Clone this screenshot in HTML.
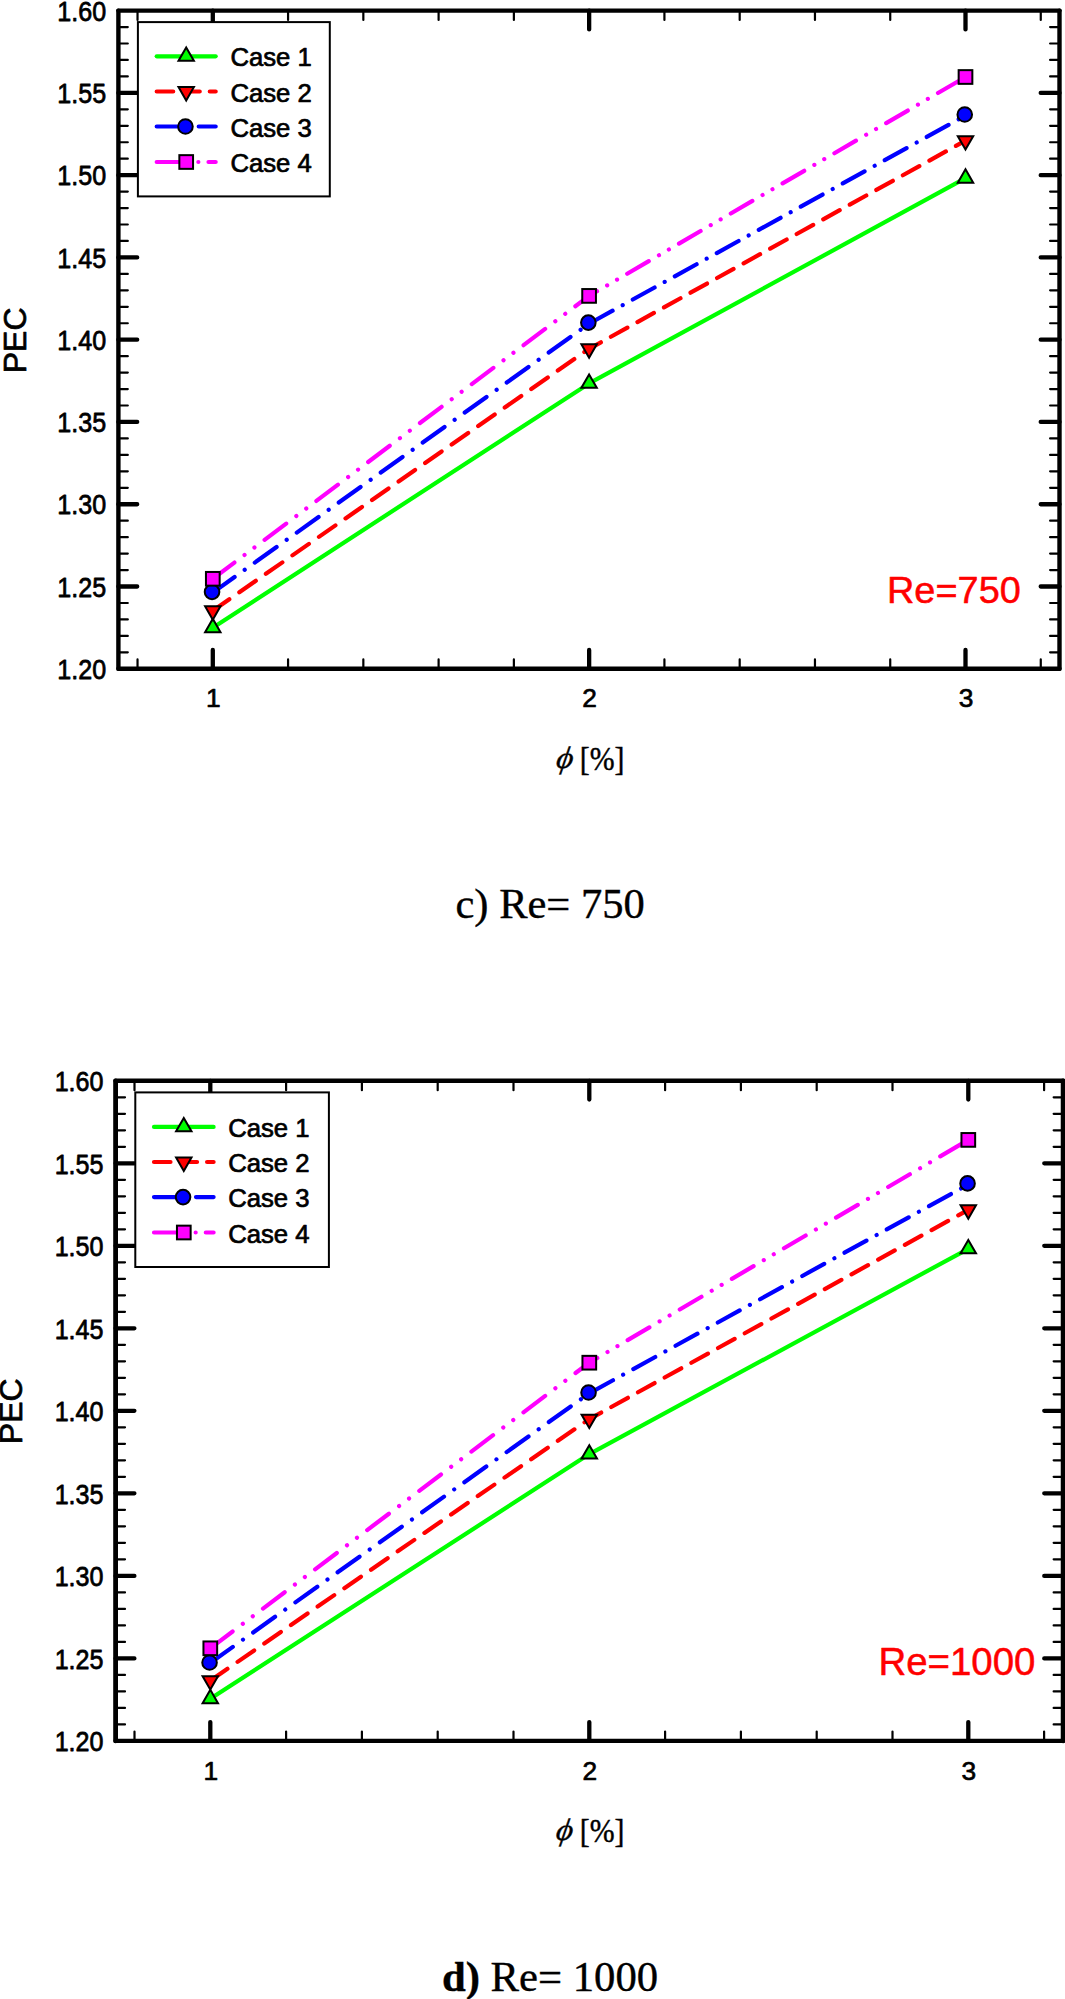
<!DOCTYPE html>
<html lang="en"><head><meta charset="utf-8"><title>PEC vs phi</title>
<style>
html,body{margin:0;padding:0;background:#fff}svg{display:block}
text{font-family:"Liberation Sans",Arial,Helvetica,sans-serif;fill:#000}
.s{stroke:#000;stroke-width:.7px;stroke-linejoin:round}
.sr{fill:#f00;stroke:#f00;stroke-width:.5px;stroke-linejoin:round}
.t{font-family:"Liberation Serif","Times New Roman",Times,serif;stroke:#000;stroke-width:.4px}
.ax{fill:none;stroke:#000;stroke-linecap:round;stroke-linejoin:round}
.ln{fill:none;stroke-width:4.2px;stroke-linecap:round;stroke-linejoin:round}
.mk{stroke:#000;stroke-width:2px;stroke-linejoin:miter}
</style></head>
<body>
<svg width="1065" height="1999" viewBox="0 0 1065 1999">
<rect width="1065" height="1999" fill="#fff"/>
<path class="ax" d="M137.53 668.8v-9.4M137.53 10.6v9.4M288.07 668.8v-9.4M288.07 10.6v9.4M363.34 668.8v-9.4M363.34 10.6v9.4M438.61 668.8v-9.4M438.61 10.6v9.4M513.88 668.8v-9.4M513.88 10.6v9.4M664.42 668.8v-9.4M664.42 10.6v9.4M739.69 668.8v-9.4M739.69 10.6v9.4M814.96 668.8v-9.4M814.96 10.6v9.4M890.23 668.8v-9.4M890.23 10.6v9.4M1040.77 668.8v-9.4M1040.77 10.6v9.4M118.4 652.34h9.4M1059.5 652.34h-9.4M118.4 635.89h9.4M1059.5 635.89h-9.4M118.4 619.43h9.4M1059.5 619.43h-9.4M118.4 602.98h9.4M1059.5 602.98h-9.4M118.4 570.07h9.4M1059.5 570.07h-9.4M118.4 553.62h9.4M1059.5 553.62h-9.4M118.4 537.16h9.4M1059.5 537.16h-9.4M118.4 520.7h9.4M1059.5 520.7h-9.4M118.4 487.79h9.4M1059.5 487.79h-9.4M118.4 471.34h9.4M1059.5 471.34h-9.4M118.4 454.88h9.4M1059.5 454.88h-9.4M118.4 438.43h9.4M1059.5 438.43h-9.4M118.4 405.52h9.4M1059.5 405.52h-9.4M118.4 389.06h9.4M1059.5 389.06h-9.4M118.4 372.61h9.4M1059.5 372.61h-9.4M118.4 356.15h9.4M1059.5 356.15h-9.4M118.4 323.25h9.4M1059.5 323.25h-9.4M118.4 306.79h9.4M1059.5 306.79h-9.4M118.4 290.33h9.4M1059.5 290.33h-9.4M118.4 273.88h9.4M1059.5 273.88h-9.4M118.4 240.97h9.4M1059.5 240.97h-9.4M118.4 224.51h9.4M1059.5 224.51h-9.4M118.4 208.06h9.4M1059.5 208.06h-9.4M118.4 191.61h9.4M1059.5 191.61h-9.4M118.4 158.69h9.4M1059.5 158.69h-9.4M118.4 142.24h9.4M1059.5 142.24h-9.4M118.4 125.78h9.4M1059.5 125.78h-9.4M118.4 109.33h9.4M1059.5 109.33h-9.4M118.4 76.42h9.4M1059.5 76.42h-9.4M118.4 59.97h9.4M1059.5 59.97h-9.4M118.4 43.51h9.4M1059.5 43.51h-9.4M118.4 27.06h9.4M1059.5 27.06h-9.4" stroke-width="2.2"/>
<path class="ax" d="M212.8 668.8v-18.8M212.8 10.6v18.8M589.15 668.8v-18.8M589.15 10.6v18.8M965.5 668.8v-18.8M965.5 10.6v18.8M118.4 586.52h18.8M1059.5 586.52h-18.8M118.4 504.25h18.8M1059.5 504.25h-18.8M118.4 421.97h18.8M1059.5 421.97h-18.8M118.4 339.7h18.8M1059.5 339.7h-18.8M118.4 257.43h18.8M1059.5 257.43h-18.8M118.4 175.15h18.8M1059.5 175.15h-18.8M118.4 92.88h18.8M1059.5 92.88h-18.8" stroke-width="4.3"/>
<path class="ax" d="M118.4 10.6V668.8" stroke-width="4.4"/>
<path class="ax" d="M118.4 10.6H1059.5" stroke-width="4.4"/>
<path class="ax" d="M1059.5 10.6V668.8" stroke-width="4.4"/>
<path class="ax" d="M118.4 668.8H1059.5" stroke-width="4.4"/>
<text class="s" transform="translate(106.1 679) scale(1 1.085)" font-size="25.1" text-anchor="end">1.20</text>
<text class="s" transform="translate(106.1 596.73) scale(1 1.085)" font-size="25.1" text-anchor="end">1.25</text>
<text class="s" transform="translate(106.1 514.45) scale(1 1.085)" font-size="25.1" text-anchor="end">1.30</text>
<text class="s" transform="translate(106.1 432.17) scale(1 1.085)" font-size="25.1" text-anchor="end">1.35</text>
<text class="s" transform="translate(106.1 349.9) scale(1 1.085)" font-size="25.1" text-anchor="end">1.40</text>
<text class="s" transform="translate(106.1 267.62) scale(1 1.085)" font-size="25.1" text-anchor="end">1.45</text>
<text class="s" transform="translate(106.1 185.35) scale(1 1.085)" font-size="25.1" text-anchor="end">1.50</text>
<text class="s" transform="translate(106.1 103.08) scale(1 1.085)" font-size="25.1" text-anchor="end">1.55</text>
<text class="s" transform="translate(106.1 20.8) scale(1 1.085)" font-size="25.1" text-anchor="end">1.60</text>
<text class="s" x="213.25" y="707.3" font-size="26.3" text-anchor="middle">1</text>
<text class="s" x="589.55" y="707.3" font-size="26.3" text-anchor="middle">2</text>
<text class="s" x="965.95" y="707.3" font-size="26.3" text-anchor="middle">3</text>
<text class="s" transform="translate(26.3 340.4) rotate(-90)" font-size="32" text-anchor="middle">PEC</text>
<text class="t" font-style="italic" transform="translate(555.2 768) skewX(-9) scale(1.09 1.043)" font-size="29.8">ϕ</text>
<text class="t" transform="translate(579.8 769.5) scale(1 1.109)" font-size="29.8">[%]</text>
<text class="sr" transform="translate(887 603.1) scale(1 0.955)" font-size="37.9">Re=750</text>
<polyline class="ln" points="212.8,627.7 589.1,383.4 965.5,178.2" stroke="#00ff00"/>
<path class="ln" d="M212.8 610.8L589.1 348.8" stroke="#ff0000" stroke-dasharray="20.11 12.23"/>
<path class="ln" d="M589.1 348.8L965.5 140.6" stroke="#ff0000" stroke-dasharray="18.86 11.47" stroke-dashoffset="5.42"/>
<path class="ln" d="M212.8 592.6L589.1 323.7" stroke="#0000ff" stroke-dasharray="26.79 12.41 0.01 12.4"/>
<path class="ln" d="M589.1 323.7L965.5 115.5" stroke="#0000ff" stroke-dasharray="24.91 11.54 0.01 11.53" stroke-dashoffset="46.05"/>
<path class="ln" d="M212.8 578.8L589.1 295.9" stroke="#ff00ff" stroke-dasharray="27.02 12.7 0.01 12.39 0.01 12.67"/>
<path class="ln" d="M589.1 295.9L965.5 77" stroke="#ff00ff" stroke-dasharray="24.99 11.74 0.01 11.45 0.01 11.72" stroke-dashoffset="15.85"/>
<polygon class="mk" points="212.8,618.81 220.5,632.15 205.1,632.15" fill="#00ff00"/>
<polygon class="mk" points="589.1,374.51 596.8,387.85 581.4,387.85" fill="#00ff00"/>
<polygon class="mk" points="965.5,169.31 973.2,182.65 957.8,182.65" fill="#00ff00"/>
<polygon class="mk" points="212.8,619.69 220.5,606.35 205.1,606.35" fill="#ff0000"/>
<polygon class="mk" points="589.1,357.69 596.8,344.35 581.4,344.35" fill="#ff0000"/>
<polygon class="mk" points="965.5,149.49 973.2,136.15 957.8,136.15" fill="#ff0000"/>
<circle class="mk" cx="212.05" cy="591.9" r="7.3" fill="#0000ff"/>
<circle class="mk" cx="588.35" cy="322.6" r="7.3" fill="#0000ff"/>
<circle class="mk" cx="964.75" cy="114.5" r="7.3" fill="#0000ff"/>
<rect class="mk" x="205.95" y="571.95" width="13.7" height="13.7" fill="#ff00ff"/>
<rect class="mk" x="582.25" y="289.05" width="13.7" height="13.7" fill="#ff00ff"/>
<rect class="mk" x="958.65" y="70.15" width="13.7" height="13.7" fill="#ff00ff"/>
<rect x="137.9" y="22.1" width="191.9" height="174.3" fill="#fff" stroke="#000" stroke-width="2"/>
<polyline class="ln" points="156.7,56.3 215.7,56.3" stroke="#00ff00"/>
<polygon class="mk" points="186.2,47.41 193.9,60.75 178.5,60.75" fill="#00ff00"/>
<text class="s" x="230.4" y="66.4" font-size="25.7">Case 1</text>
<path class="ln" d="M156.7 91.5L215.7 91.5" stroke="#ff0000" stroke-dasharray="16.5 10.04"/>
<polygon class="mk" points="186.2,100.39 193.9,87.05 178.5,87.05" fill="#ff0000"/>
<text class="s" x="230.4" y="101.6" font-size="25.7">Case 2</text>
<path class="ln" d="M156.7 126.5L215.7 126.5" stroke="#0000ff" stroke-dasharray="21.8 10.1 0.01 10.09"/>
<circle class="mk" cx="185.45" cy="126.5" r="7.3" fill="#0000ff"/>
<text class="s" x="230.4" y="136.6" font-size="25.7">Case 3</text>
<path class="ln" d="M156.7 162L215.7 162" stroke="#ff00ff" stroke-dasharray="21.6 10.15 0.01 9.9 0.01 10.13"/>
<rect class="mk" x="179.35" y="155.15" width="13.7" height="13.7" fill="#ff00ff"/>
<text class="s" x="230.4" y="172.1" font-size="25.7">Case 4</text>
<path class="ax" d="M134.5 1740.9v-9.4M134.5 1080.8v9.4M286.1 1740.9v-9.4M286.1 1080.8v9.4M361.9 1740.9v-9.4M361.9 1080.8v9.4M437.7 1740.9v-9.4M437.7 1080.8v9.4M513.5 1740.9v-9.4M513.5 1080.8v9.4M665.1 1740.9v-9.4M665.1 1080.8v9.4M740.9 1740.9v-9.4M740.9 1080.8v9.4M816.7 1740.9v-9.4M816.7 1080.8v9.4M892.5 1740.9v-9.4M892.5 1080.8v9.4M1044.1 1740.9v-9.4M1044.1 1080.8v9.4M115.6 1724.4h9.4M1063.05 1724.4h-9.4M115.6 1707.89h9.4M1063.05 1707.89h-9.4M115.6 1691.39h9.4M1063.05 1691.39h-9.4M115.6 1674.89h9.4M1063.05 1674.89h-9.4M115.6 1641.88h9.4M1063.05 1641.88h-9.4M115.6 1625.38h9.4M1063.05 1625.38h-9.4M115.6 1608.88h9.4M1063.05 1608.88h-9.4M115.6 1592.38h9.4M1063.05 1592.38h-9.4M115.6 1559.37h9.4M1063.05 1559.37h-9.4M115.6 1542.87h9.4M1063.05 1542.87h-9.4M115.6 1526.37h9.4M1063.05 1526.37h-9.4M115.6 1509.87h9.4M1063.05 1509.87h-9.4M115.6 1476.86h9.4M1063.05 1476.86h-9.4M115.6 1460.36h9.4M1063.05 1460.36h-9.4M115.6 1443.86h9.4M1063.05 1443.86h-9.4M115.6 1427.35h9.4M1063.05 1427.35h-9.4M115.6 1394.35h9.4M1063.05 1394.35h-9.4M115.6 1377.85h9.4M1063.05 1377.85h-9.4M115.6 1361.34h9.4M1063.05 1361.34h-9.4M115.6 1344.84h9.4M1063.05 1344.84h-9.4M115.6 1311.84h9.4M1063.05 1311.84h-9.4M115.6 1295.33h9.4M1063.05 1295.33h-9.4M115.6 1278.83h9.4M1063.05 1278.83h-9.4M115.6 1262.33h9.4M1063.05 1262.33h-9.4M115.6 1229.32h9.4M1063.05 1229.32h-9.4M115.6 1212.82h9.4M1063.05 1212.82h-9.4M115.6 1196.32h9.4M1063.05 1196.32h-9.4M115.6 1179.82h9.4M1063.05 1179.82h-9.4M115.6 1146.81h9.4M1063.05 1146.81h-9.4M115.6 1130.31h9.4M1063.05 1130.31h-9.4M115.6 1113.8h9.4M1063.05 1113.8h-9.4M115.6 1097.3h9.4M1063.05 1097.3h-9.4" stroke-width="2.2"/>
<path class="ax" d="M210.3 1740.9v-18.8M210.3 1080.8v18.8M589.3 1740.9v-18.8M589.3 1080.8v18.8M968.3 1740.9v-18.8M968.3 1080.8v18.8M115.6 1658.39h18.8M1063.05 1658.39h-18.8M115.6 1575.88h18.8M1063.05 1575.88h-18.8M115.6 1493.36h18.8M1063.05 1493.36h-18.8M115.6 1410.85h18.8M1063.05 1410.85h-18.8M115.6 1328.34h18.8M1063.05 1328.34h-18.8M115.6 1245.82h18.8M1063.05 1245.82h-18.8M115.6 1163.31h18.8M1063.05 1163.31h-18.8" stroke-width="4.3"/>
<path class="ax" d="M115.6 1080.8V1740.9" stroke-width="4.8"/>
<path class="ax" d="M115.6 1080.8H1063.05" stroke-width="4.6"/>
<path class="ax" d="M1063.05 1080.8V1740.9" stroke-width="4.6"/>
<path class="ax" d="M115.6 1740.9H1063.05" stroke-width="4.4"/>
<text class="s" transform="translate(103.5 1751.1) scale(1 1.085)" font-size="25.1" text-anchor="end">1.20</text>
<text class="s" transform="translate(103.5 1668.59) scale(1 1.085)" font-size="25.1" text-anchor="end">1.25</text>
<text class="s" transform="translate(103.5 1586.08) scale(1 1.085)" font-size="25.1" text-anchor="end">1.30</text>
<text class="s" transform="translate(103.5 1503.56) scale(1 1.085)" font-size="25.1" text-anchor="end">1.35</text>
<text class="s" transform="translate(103.5 1421.05) scale(1 1.085)" font-size="25.1" text-anchor="end">1.40</text>
<text class="s" transform="translate(103.5 1338.54) scale(1 1.085)" font-size="25.1" text-anchor="end">1.45</text>
<text class="s" transform="translate(103.5 1256.02) scale(1 1.085)" font-size="25.1" text-anchor="end">1.50</text>
<text class="s" transform="translate(103.5 1173.51) scale(1 1.085)" font-size="25.1" text-anchor="end">1.55</text>
<text class="s" transform="translate(103.5 1091) scale(1 1.085)" font-size="25.1" text-anchor="end">1.60</text>
<text class="s" x="210.75" y="1779.5" font-size="26.3" text-anchor="middle">1</text>
<text class="s" x="589.75" y="1779.5" font-size="26.3" text-anchor="middle">2</text>
<text class="s" x="968.75" y="1779.5" font-size="26.3" text-anchor="middle">3</text>
<text class="s" transform="translate(22.4 1411.3) rotate(-90)" font-size="32" text-anchor="middle">PEC</text>
<text class="t" font-style="italic" transform="translate(554.9 1840.4) skewX(-9) scale(1.09 1.043)" font-size="29.8">ϕ</text>
<text class="t" transform="translate(579.8 1841.9) scale(1 1.109)" font-size="29.8">[%]</text>
<text class="sr" transform="translate(878.5 1675.4) scale(1 0.995)" font-size="38.4">Re=1000</text>
<polyline class="ln" points="210.3,1698.7 589.3,1454.1 968.3,1248.8" stroke="#00ff00"/>
<path class="ln" d="M210.3 1680.7L589.3 1419.1" stroke="#ff0000" stroke-dasharray="20.16 12.27" stroke-dashoffset="31.7"/>
<path class="ln" d="M589.3 1419.1L968.3 1209.8" stroke="#ff0000" stroke-dasharray="18.96 11.53" stroke-dashoffset="5.39"/>
<path class="ln" d="M210.3 1662.9L589.3 1393.3" stroke="#0000ff" stroke-dasharray="26.91 12.47 0.01 12.45" stroke-dashoffset="51.1"/>
<path class="ln" d="M589.3 1393.3L968.3 1184.5" stroke="#0000ff" stroke-dasharray="25.03 11.6 0.01 11.59" stroke-dashoffset="46.22"/>
<path class="ln" d="M210.3 1648.3L589.3 1362.7" stroke="#ff00ff" stroke-dasharray="27.2 12.78 0.01 12.47 0.01 12.76" stroke-dashoffset="64.48"/>
<path class="ln" d="M589.3 1362.7L968.3 1139.9" stroke="#ff00ff" stroke-dasharray="25.2 11.84 0.01 11.55 0.01 11.82" stroke-dashoffset="15.93"/>
<polygon class="mk" points="210.3,1689.81 218,1703.15 202.6,1703.15" fill="#00ff00"/>
<polygon class="mk" points="589.3,1445.21 597,1458.55 581.6,1458.55" fill="#00ff00"/>
<polygon class="mk" points="968.3,1239.91 976,1253.25 960.6,1253.25" fill="#00ff00"/>
<polygon class="mk" points="210.3,1689.59 218,1676.25 202.6,1676.25" fill="#ff0000"/>
<polygon class="mk" points="589.3,1427.99 597,1414.65 581.6,1414.65" fill="#ff0000"/>
<polygon class="mk" points="968.3,1218.69 976,1205.35 960.6,1205.35" fill="#ff0000"/>
<circle class="mk" cx="209.55" cy="1662.5" r="7.3" fill="#0000ff"/>
<circle class="mk" cx="588.55" cy="1392.5" r="7.3" fill="#0000ff"/>
<circle class="mk" cx="967.55" cy="1183.4" r="7.3" fill="#0000ff"/>
<rect class="mk" x="203.45" y="1641.45" width="13.7" height="13.7" fill="#ff00ff"/>
<rect class="mk" x="582.45" y="1355.85" width="13.7" height="13.7" fill="#ff00ff"/>
<rect class="mk" x="961.45" y="1133.05" width="13.7" height="13.7" fill="#ff00ff"/>
<rect x="135.3" y="1092.4" width="193.6" height="174.6" fill="#fff" stroke="#000" stroke-width="2"/>
<polyline class="ln" points="154,1126.9 213.6,1126.9" stroke="#00ff00"/>
<polygon class="mk" points="183.8,1118.01 191.5,1131.35 176.1,1131.35" fill="#00ff00"/>
<text class="s" x="228.2" y="1137" font-size="25.7">Case 1</text>
<path class="ln" d="M154 1162L213.6 1162" stroke="#ff0000" stroke-dasharray="16.5 10.04"/>
<polygon class="mk" points="183.8,1170.89 191.5,1157.55 176.1,1157.55" fill="#ff0000"/>
<text class="s" x="228.2" y="1172.1" font-size="25.7">Case 2</text>
<path class="ln" d="M154 1197.1L213.6 1197.1" stroke="#0000ff" stroke-dasharray="21.8 10.1 0.01 10.09"/>
<circle class="mk" cx="183.05" cy="1197.1" r="7.3" fill="#0000ff"/>
<text class="s" x="228.2" y="1207.2" font-size="25.7">Case 3</text>
<path class="ln" d="M154 1232.5L213.6 1232.5" stroke="#ff00ff" stroke-dasharray="21.6 10.15 0.01 9.9 0.01 10.13"/>
<rect class="mk" x="176.95" y="1225.65" width="13.7" height="13.7" fill="#ff00ff"/>
<text class="s" x="228.2" y="1242.6" font-size="25.7">Case 4</text>
<text class="t" x="550.1" y="918" font-size="42.5" text-anchor="middle">c) Re= 750</text>
<text class="t" x="550" y="1990.7" font-size="42.7" text-anchor="middle"><tspan font-weight="bold">d)</tspan> Re= 1000</text>
</svg>
</body></html>
